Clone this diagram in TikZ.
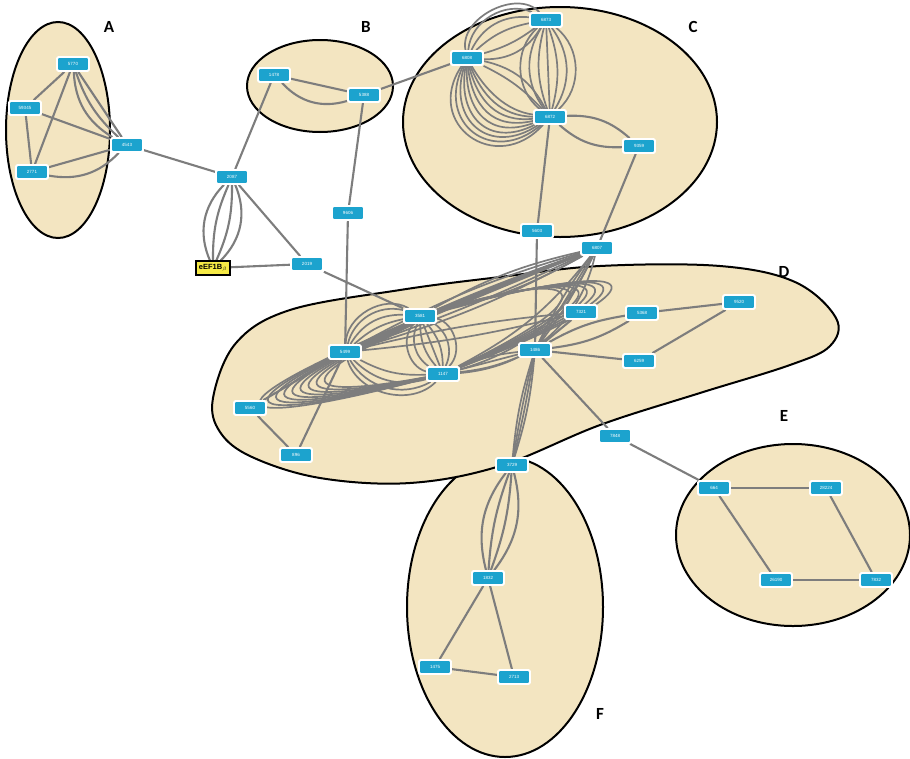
\documentclass[tikz,border=0pt]{standalone}
\usepackage{fontspec}
\setmainfont{Liberation Sans}
\newfontfamily\labfont{Carlito}
\usetikzlibrary{calc}
\definecolor{beige}{RGB}{243,229,193}
\definecolor{nodeblue}{RGB}{28,163,206}
\definecolor{edgegray}{RGB}{125,125,125}
\definecolor{eyellow}{RGB}{246,234,70}
\pgfdeclarelayer{bg}
\pgfdeclarelayer{edges}
\pgfsetlayers{bg,edges,main}
\tikzset{
  gene/.style={rectangle, rounded corners=1.5pt, fill=nodeblue, draw=white, line width=1.8pt,
    minimum width=32pt, minimum height=14pt, inner sep=1pt, text=white,
    font=\fontsize{4.5}{5}\selectfont},
  ebox/.style={rectangle, fill=eyellow, draw=black, line width=1.1pt, minimum width=34pt,
    minimum height=14pt, inner sep=1pt, text=black, font=\bfseries\fontsize{7.5}{8}\selectfont},
  group/.style={fill=beige, draw=black, line width=2pt},
  grouplabel/.style={font=\labfont\bfseries\fontsize{17}{17}\selectfont, text=black},
  link/.style={draw=edgegray, line width=2.1pt},
  thin link/.style={draw=edgegray, line width=1.7pt}
}
\begin{document}
\begin{tikzpicture}[x=1pt,y=1pt]
\useasboundingbox (0,0) rectangle (910,-758);
% groups
\begin{pgfonlayer}{bg}
  \fill[white] (0,0) rectangle (910,-758);
  \draw[group] (58,-130) ellipse [x radius=52, y radius=108];
  \draw[group] (320,-86) ellipse [x radius=73, y radius=46];
  \draw[group] (560,-122) ellipse [x radius=157, y radius=115];
  \draw[group] (793,-535) ellipse [x radius=117, y radius=91];
  \draw[group] (505,-607) ellipse [x radius=98, y radius=150];
  \draw[group] plot[smooth cycle, tension=0.6] coordinates {
    (213,-398) (236,-343) (290,-310) (400,-290) (500,-277) (600,-266) (720,-266)
    (795,-282) (836,-318) (830,-346) (790,-365) (700,-393) (600,-425) (500,-466)
    (410,-483) (320,-478) (252,-457) (220,-432)};
\end{pgfonlayer}
% group labels
\node[grouplabel] (LA) at (109,-27) {A};
\node[grouplabel] (LB) at (366,-27) {B};
\node[grouplabel] (LC) at (693,-27) {C};
\node[grouplabel] (LD) at (784,-272) {D};
\node[grouplabel] (LE) at (784,-416) {E};
\node[grouplabel] (LF) at (600,-714) {F};
% nodes A
\node[gene] (n5770) at (73,-64) {5770};
\node[gene] (n59345) at (25,-108) {59345};
\node[gene] (n2771) at (32,-172) {2771};
\node[gene] (n4543) at (127,-145) {4543};
% B
\node[gene] (n1478) at (274,-75) {1478};
\node[gene] (n5388) at (364,-95) {5388};
% middle
\node[gene] (n2087) at (232,-177) {2087};
\node[ebox] (eEF) at (213,-268) {eEF1B$_{\beta}$};
\node[gene] (n2019) at (307,-264) {2019};
\node[gene] (n9606) at (348,-213) {9606};
% C
\node[gene] (n6873) at (546,-20) {6873};
\node[gene] (n6808) at (467,-58) {6808};
\node[gene] (n6872) at (550,-117) {6872};
\node[gene] (n9359) at (639,-146) {9359};
\node[gene] (n5603) at (537,-231) {5603};
\node[gene] (n6807) at (597,-248) {6807};
% D
\node[gene] (n3581) at (420,-316) {3581};
\node[gene] (n5499) at (345,-352) {5499};
\node[gene] (n1147) at (443,-374) {1147};
\node[gene] (n7321) at (581,-312) {7321};
\node[gene] (n1486) at (535,-350) {1486};
\node[gene] (n5368) at (642,-313) {5368};
\node[gene] (n9520) at (739,-302) {9520};
\node[gene] (n6259) at (639,-361) {6259};
\node[gene] (n5560) at (250,-408) {5560};
\node[gene] (n896) at (296,-455) {896};
\node[gene] (n7848) at (615,-436) {7848};
% E
\node[gene] (n664) at (714,-488) {664};
\node[gene] (n28224) at (826,-488) {28224};
\node[gene] (n26190) at (776,-580) {26190};
\node[gene] (n7832) at (876,-580) {7832};
% F
\node[gene] (n3729) at (512,-465) {3729};
\node[gene] (n1832) at (488,-578) {1832};
\node[gene] (n1475) at (435,-667) {1475};
\node[gene] (n2713) at (514,-677) {2713};
% edges
\begin{pgfonlayer}{edges}
  % A
  \draw[link] (n5770) -- (n59345);
  \draw[link] (n5770) -- (n2771);
  \draw[link] (n5770) -- (n4543);
  \draw[link] (n5770) to[bend right=14] (n4543);
  \draw[link] (n5770) to[bend right=28] (n4543);
  \draw[link] (n59345) -- (n2771);
  \draw[link] (n59345) -- (n4543);
  \draw[link] (n2771) -- (n4543);
  \draw[link] (n2771) to[bend right=28] (n4543);
  \draw[link] (n4543) -- (n2087);
  % middle
  \foreach \b in {-34,-12,12,34} \draw[link] (n2087) to[bend left=\b] (eEF);
  \draw[link] (n2087) -- (n1478);
  \draw[link] (n2087) -- (n2019);
  \draw[link] (eEF) -- (n2019);
  \draw[link] (n2019) -- (n3581);
  % B
  \draw[link] (n1478) -- (n5388);
  \draw[link] (n1478) to[bend right=32] (n5388);
  \draw[link] (n5388) -- (n6808);
  \draw[link] (n5388) -- (n9606);
  \draw[link] (n9606) -- (n5499);
  % C
  \foreach \k in {0,...,8} {
    \pgfmathsetmacro{\ao}{300-8*\k}
    \pgfmathsetmacro{\ai}{172+7*\k}
    \pgfmathsetmacro{\lo}{0.9+0.11*\k}
    \draw[thin link] (n6808) to[out=\ao, in=\ai, looseness=\lo] (n6872);
  }
  \foreach \b in {10,25} \draw[thin link] (n6808) to[bend left=\b] (n6872);
  \foreach \b in {-30,-10,15,35,55,75} \draw[thin link] (n6873) to[bend right=\b] (n6808);
  \foreach \b in {-50,-34,-17,0,17,34,50} \draw[thin link] (n6873) to[bend left=\b] (n6872);
  \draw[link] (n6872) to[bend left=22] (n9359);
  \draw[link] (n6872) to[bend right=22] (n9359);
  \draw[link] (n6872) -- (n5603);
  \draw[link] (n5603) -- (n1486);
  \draw[link] (n9359) -- (n6807);
  % D : bundles
  \foreach \b in {-6,-3,0,3,6} \draw[thin link] (n6807) to[bend left=\b] (n5499);
  \foreach \b in {-8,0,8} \draw[thin link] (n6807) to[bend left=\b] (n3581);
  \foreach \b in {-4,4} \draw[thin link] (n7321) to[bend left=\b] (n5499);
  \foreach \b in {-5,0,5} \draw[thin link] (n6807) to[bend left=\b] (n1486);
  \foreach \b in {12,24,36} \draw[thin link] (n6807) to[bend left=\b] (n1147);
  \foreach \b in {-10,15,30,45,60} \draw[thin link] (n3581) to[bend right=\b] (n5499);
  \foreach \b in {-60,-40,-20,0,20,40,60} \draw[thin link] (n3581) to[bend left=\b] (n1147);
  \foreach \b in {15,30,45,60} \draw[thin link] (n5499) to[bend right=\b] (n1147);
  % long loops to the left
  \foreach \k in {0,...,8} {
    \pgfmathsetmacro{\cx}{172+11*\k}
    \pgfmathsetmacro{\ca}{-408+3.5*\k}
    \pgfmathsetmacro{\cb}{-440+4.5*\k}
    \pgfmathsetmacro{\cxx}{\cx+20}
    \draw[thin link] (n6807) .. controls (\cx,\ca) and (\cxx,\cb) .. (n1147);
  }
  % loops to the right
  \foreach \k in {0,...,6} {
    \pgfmathsetmacro{\cx}{600+11*\k}
    \pgfmathsetmacro{\ca}{-262+2*\k}
    \pgfmathsetmacro{\cb}{-300+2*\k}
    \draw[thin link] (n3581) .. controls (\cx,\ca) and (\cx,\cb) .. (n1147);
  }
  \draw[link] (n5499) -- (n5560);
  \draw[link] (n5499) -- (n896);
  \draw[link] (n5560) -- (n896);
  \draw[link] (n1486) -- (n7321);
  \foreach \b in {-8,0,8} \draw[thin link] (n1486) to[bend left=\b] (n1147);
  \draw[link] (n1486) to[bend left=10] (n5368);
  \draw[link] (n1486) to[bend right=12] (n5368);
  \draw[link] (n1486) -- (n6259);
  \draw[link] (n5368) -- (n9520);
  \draw[link] (n6259) -- (n9520);
  \foreach \b in {-6,-2,2,6} \draw[thin link] (n1486) to[bend left=\b] (n3729);
  \draw[link] (n1486) -- (n7848);
  \draw[link] (n7848) -- (n664);
  % E
  \draw[link] (n664) -- (n28224);
  \draw[link] (n664) -- (n26190);
  \draw[link] (n28224) -- (n7832);
  \draw[link] (n26190) -- (n7832);
  % F
  \foreach \b in {-26,-8,8,26} \draw[link] (n3729) to[bend left=\b] (n1832);
  \draw[link] (n1832) -- (n1475);
  \draw[link] (n1832) -- (n2713);
  \draw[link] (n1475) -- (n2713);
\end{pgfonlayer}
\end{tikzpicture}
\end{document}
